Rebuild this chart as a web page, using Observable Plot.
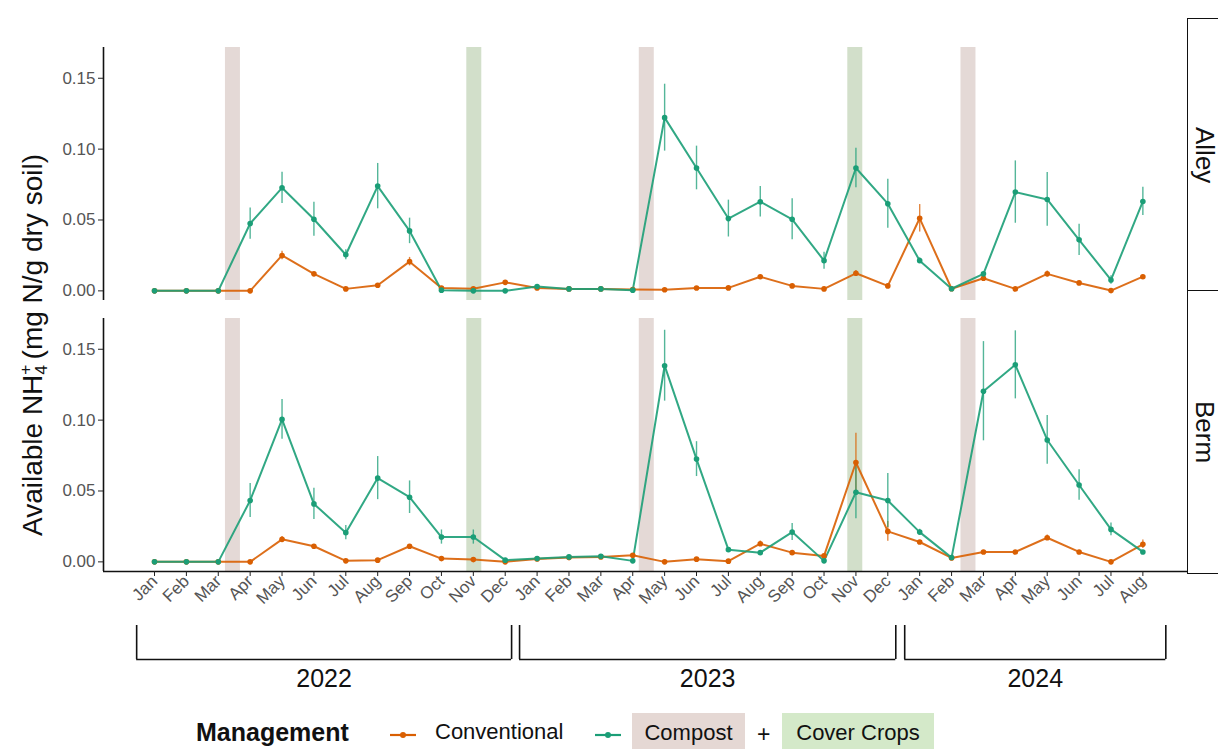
<!DOCTYPE html>
<html>
<head>
<meta charset="utf-8">
<script src="https://cdn.jsdelivr.net/npm/d3@7"></script>
<script src="https://cdn.jsdelivr.net/npm/@observablehq/plot@0.6"></script>
<style>
  html, body { margin: 0; padding: 0; background: #fff; }
  #wrap { position: relative; width: 1218px; height: 749px; overflow: hidden; background: #fff;
          font-family: "Liberation Sans", Arial, sans-serif; }
  #main, #years { position: absolute; left: 0; }
  #main { top: 0; }
  #years { top: 620px; }
  .strip { position: absolute; left: 1187px; width: 31px; border: 1.5px solid #111; border-right: none;
           background: #fff; box-sizing: border-box; display: flex; align-items: center;
           justify-content: center; padding-left: 3px; }
  .strip span { writing-mode: vertical-rl; font-size: 26px; line-height: 1; color: #111; white-space: nowrap; }
  #ytitle { position: absolute; left: 33px; top: 345px; transform: translate(-50%, -50%) rotate(-90deg);
            font-size: 28px; color: #111; white-space: nowrap; line-height: 1; }
  #ytitle sub, #ytitle sup { font-size: 0.62em; line-height: 0; position: relative; vertical-align: baseline; }
  #ytitle sub { top: 0.3em; }
  #ytitle sup { top: -0.62em; margin-left: -0.56em; margin-right: 0.3em; }
  .legend { position: absolute; font-size: 22px; color: #111; white-space: nowrap; }
  .box { position: absolute; top: 713px; height: 40px; box-sizing: border-box; padding-top: 7px; text-align: center; }
</style>
</head>
<body>
<div id="wrap">
  <div id="main"></div>
  <div id="years"></div>
  <div class="strip" style="top:18px;height:274px;"><span>Alley</span></div>
  <div class="strip" style="top:290px;height:284px;"><span>Berm</span></div>
  <div id="ytitle">Available NH<sub>4</sub><sup>+</sup>(mg N/g dry soil)</div>
  <div id="legend"></div>
</div>
<script>
// Sampling months, Jan 2022 – Aug 2024 (x position = month index)
const monthLabels = [
  "Jan","Feb","Mar","Apr","May","Jun","Jul","Aug","Sep","Oct","Nov","Dec",
  "Jan","Feb","Mar","Apr","May","Jun","Jul","Aug","Sep","Oct","Nov","Dec",
  "Jan","Feb","Mar","Apr","May","Jun","Jul","Aug"
];

// Year brackets under the month axis (edges in month-index units)
const yearLabels = ["2022", "2023", "2024"];
const yearStart = [-0.56, 11.45, 23.53];
const yearEnd = [11.2, 23.25, 31.72];

// Management events (month-index position of each application)
const eventType = ["Compost", "Cover Crops", "Compost", "Cover Crops", "Compost"];
const eventAt = [2.46, 10.03, 15.44, 21.98, 25.53];

// Available NH4+ (mg N/g dry soil): means and standard errors
const alleyConventional = [
  0, 0, 0, 0, 0.025, 0.012, 0.0014, 0.004, 0.0206, 0.002, 0.0015, 0.006,
  0.002, 0.0014, 0.0014, 0.001, 0.0008, 0.002, 0.0021, 0.010, 0.0035, 0.0014, 0.0124, 0.0035,
  0.0512, 0.0015, 0.0089, 0.0014, 0.012, 0.0056, 0.0002, 0.010
];
const alleyConventionalSE = [
  0, 0, 0, 0, 0.003, 0.001, 0, 0, 0.003, 0, 0, 0.001,
  0, 0, 0, 0, 0, 0, 0, 0.001, 0, 0, 0.002, 0,
  0.0097, 0, 0.001, 0, 0.002, 0, 0, 0.001
];
const alleyCompost = [
  0, 0, 0, 0.0475, 0.0727, 0.0505, 0.0255, 0.0739, 0.0423, 0.0005, 0, 0,
  0.003, 0.0014, 0.0014, 0.0005, 0.1222, 0.0867, 0.051, 0.0629, 0.0505, 0.0213, 0.0867, 0.0615,
  0.0213, 0.0015, 0.012, 0.0697, 0.0645, 0.036, 0.0077, 0.0631
];
const alleyCompostSE = [
  0, 0, 0, 0.011, 0.011, 0.012, 0.0035, 0.016, 0.009, 0, 0, 0,
  0.001, 0, 0, 0, 0.0236, 0.0154, 0.013, 0.0107, 0.0144, 0.006, 0.014, 0.0173,
  0.002, 0, 0.001, 0.022, 0.019, 0.011, 0.003, 0.01
];
const bermConventional = [
  0, 0, 0, 0, 0.0159, 0.011, 0.0007, 0.0012, 0.011, 0.0023, 0.0016, 0,
  0.002, 0.003, 0.0035, 0.0047, 0, 0.0019, 0.0005, 0.0128, 0.0065, 0.0042, 0.0701, 0.0215,
  0.014, 0.0028, 0.007, 0.007, 0.017, 0.007, 0, 0.0124
];
const bermConventionalSE = [
  0, 0, 0, 0, 0.002, 0.001, 0, 0, 0.001, 0, 0, 0,
  0, 0, 0, 0, 0, 0, 0, 0.002, 0, 0, 0.0207, 0.007,
  0.001, 0, 0, 0, 0.002, 0, 0, 0.003
];
const bermCompost = [
  0, 0, 0, 0.0433, 0.1005, 0.0409, 0.0206, 0.0591, 0.0456, 0.0175, 0.0175, 0.0012,
  0.0023, 0.0035, 0.004, 0.0007, 0.1384, 0.0725, 0.0086, 0.0065, 0.021, 0.0007, 0.0491, 0.0433,
  0.021, 0.003, 0.1204, 0.139, 0.086, 0.0542, 0.0229, 0.007
];
const bermCompostSE = [
  0, 0, 0, 0.012, 0.014, 0.011, 0.005, 0.0152, 0.0115, 0.005, 0.005, 0,
  0, 0, 0, 0, 0.025, 0.0123, 0, 0, 0.006, 0, 0.0187, 0.019,
  0.002, 0, 0.035, 0.024, 0.0172, 0.0107, 0.0045, 0.001
];

const positions = ["Alley", "Berm"];
const managements = ["Conventional", "Compost"];
const colors = ["#d95f02", "#1b9e77"];
const bandColors = { "Compost": "#e4d9d6", "Cover Crops": "#d2dfca" };
const legendBoxColors = { "Compost": "#e5d8d4", "Cover Crops": "#d4e9c9" };

// Long table built from the named series
const series = [
  ["Alley", "Conventional", alleyConventional, alleyConventionalSE],
  ["Alley", "Compost", alleyCompost, alleyCompostSE],
  ["Berm", "Conventional", bermConventional, bermConventionalSE],
  ["Berm", "Compost", bermCompost, bermCompostSE]
];
const rows = series.flatMap(([position, management, vals, ses]) =>
  vals.map((value, i) => ({ position, management, i, value, se: ses[i] })));
const errRows = rows.filter(d => d.se > 0);
const events = eventType.map((type, k) => ({ type, at: eventAt[k] }));
const years = yearLabels.map((label, k) => ({ label, start: yearStart[k], end: yearEnd[k] }));

const xDomain = [-1.6, 32.4];
const yDomain = [-0.0068, 0.1717];
const bandHalf = 0.235;
const font = "Liberation Sans, Arial, sans-serif";

const main = Plot.plot({
  width: 1218,
  height: 620,
  marginTop: 46,
  marginBottom: 48,
  marginLeft: 103,
  marginRight: 31,
  style: { fontFamily: font, background: "transparent" },
  x: { domain: xDomain },
  y: { domain: yDomain },
  fy: { domain: positions, paddingInner: 0.066, paddingOuter: 0, axis: null },
  color: { domain: managements, range: colors },
  marks: [
    // management windows, repeated in both panels
    Plot.barX(events.filter(d => d.type === "Compost"),
      { x1: d => d.at - bandHalf, x2: d => d.at + bandHalf, fill: bandColors["Compost"] }),
    Plot.barX(events.filter(d => d.type === "Cover Crops"),
      { x1: d => d.at - bandHalf, x2: d => d.at + bandHalf, fill: bandColors["Cover Crops"] }),
    // error bars
    Plot.ruleX(errRows, {
      x: "i", y1: d => d.value - d.se, y2: d => d.value + d.se, fy: "position",
      stroke: "management", strokeWidth: 1.4, strokeOpacity: 0.75
    }),
    // series lines and points
    Plot.line(rows, { x: "i", y: "value", z: "management", fy: "position",
      stroke: "management", strokeWidth: 2, strokeOpacity: 0.9 }),
    Plot.dot(rows, { x: "i", y: "value", fy: "position", fill: "management", r: 2.8 }),
    // axis lines
    Plot.ruleX([xDomain[0]], { stroke: "#111", strokeWidth: 1.6 }),
    Plot.ruleY([yDomain[0]], { fy: () => "Berm", stroke: "#111", strokeWidth: 1.6 }),
    Plot.axisY({
      ticks: [0, 0.05, 0.1, 0.15], tickFormat: d3.format(".2f"), tickSize: 5, tickPadding: 3,
      fontSize: 17, fill: "#555", stroke: "#222", label: null
    }),
    Plot.axisX({
      ticks: d3.range(monthLabels.length), tickFormat: i => monthLabels[i],
      tickRotate: -45, tickSize: 5, tickPadding: 2, fontSize: 17, fill: "#555", stroke: "#222", label: null
    })
  ]
});
document.getElementById("main").appendChild(main);

// Year brackets, sharing the month x scale
const yearPlot = Plot.plot({
  width: 1218,
  height: 80,
  marginTop: 5,
  marginBottom: 41,
  marginLeft: 103,
  marginRight: 31,
  style: { fontFamily: font, background: "transparent" },
  x: { domain: xDomain, axis: null },
  y: { domain: [0, 1], axis: null },
  marks: [
    Plot.ruleY(years, { x1: "start", x2: "end", y: 0, stroke: "#111", strokeWidth: 1.6 }),
    Plot.ruleX(years, { x: "start", y1: 0, y2: 1, stroke: "#111", strokeWidth: 1.6 }),
    Plot.ruleX(years, { x: "end", y1: 0, y2: 1, stroke: "#111", strokeWidth: 1.6 }),
    Plot.text(years, { x: d => (d.start + d.end) / 2, y: 0, dy: 19, text: "label",
      fontSize: 25, fill: "#111" })
  ]
});
document.getElementById("years").appendChild(yearPlot);

// Legend
const legend = document.getElementById("legend");
function add(html, style, cls = "legend") {
  const el = document.createElement("div");
  el.className = cls;
  el.setAttribute("style", style);
  el.innerHTML = html;
  legend.appendChild(el);
}
function key(color) {
  return `<svg width="28" height="14"><line x1="1" x2="27" y1="7" y2="7" stroke="${color}" stroke-width="2.2"/>` +
    `<circle cx="14" cy="7" r="3" fill="${color}"/></svg>`;
}
add("Management", "left:196px;top:718px;font-weight:bold;font-size:25px;");
add(key(colors[0]), "left:389px;top:722px;");
add(managements[0], "left:435px;top:719px;");
add(key(colors[1]), "left:594px;top:722px;");
add("Compost", `left:632px;width:113px;background:${legendBoxColors["Compost"]};`, "legend box");
add("+", "left:757px;top:721px;font-size:23px;");
add("Cover Crops", `left:782px;width:152px;background:${legendBoxColors["Cover Crops"]};`, "legend box");
</script>
</body>
</html>
